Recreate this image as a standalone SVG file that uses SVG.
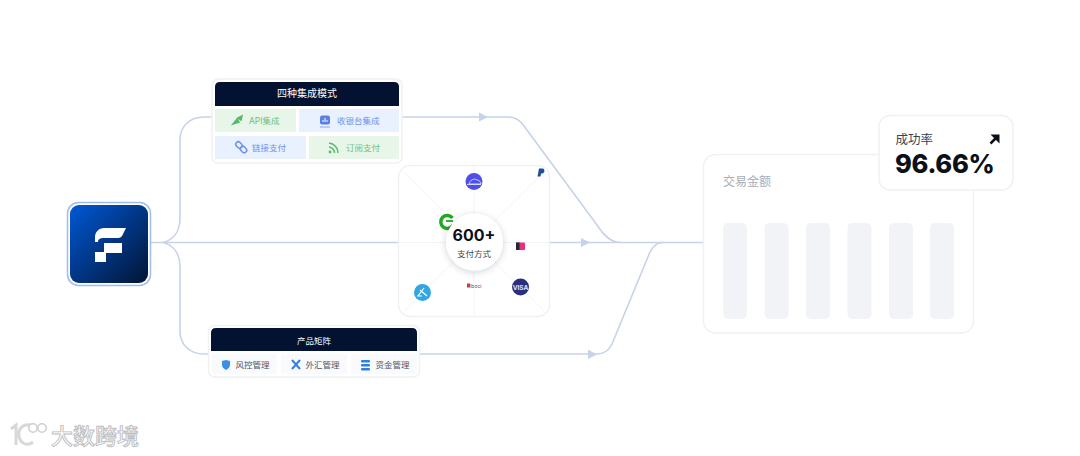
<svg xmlns="http://www.w3.org/2000/svg" width="1080" height="456" viewBox="0 0 1080 456">
<style>
text{font-family:"Inter","Noto Sans CJK SC","Liberation Sans",sans-serif}
.cn{font-family:"Noto Sans CJK SC","Noto Sans",sans-serif}
.flow{fill:none;stroke:#c6d3e8;stroke-width:1.6}
.spoke{stroke:#f1f3f7;stroke-width:1;fill:none}
.card{fill:#fff;stroke:#eff1f4;stroke-width:1.5}
.hd{fill:#fff;font-size:10px;text-anchor:middle}
.bl{fill:#e9f0fe}.gr{fill:#e8f6ea}
.tb{fill:#6f92ea;font-size:8.5px}
.tg{fill:#6fc07d;font-size:8.5px}
.td{fill:#4a5568;font-size:8.5px}
.bar{fill:#f2f3f6}
.arrow{fill:#c6d3e8}
</style>
<defs>
<linearGradient id="g" x1="0" y1="0" x2="1" y2="1"><stop offset="0" stop-color="#0058d6"/><stop offset="1" stop-color="#021433"/></linearGradient>
<filter id="s" x="-30%" y="-30%" width="160%" height="160%"><feDropShadow dx="0" dy="1.5" stdDeviation="3.5" flood-color="#0b1a33" flood-opacity=".18"/></filter>
</defs>
<rect width="1080" height="456" fill="#fff"/>

<g id="connectors">
<path class="flow" d="M151 242.500H703"/>
<path class="flow" d="M163 242.500C173 240 180 232 180 218V140C180 126 190 117 204 117H212"/>
<path class="flow" d="M163 242.500C173 245 180 253 180 267V331C180 345 190 354 204 354H208"/>
<path class="flow" d="M402 117H508C515 117 520 120 524 126L597 225C603 234 610 242.500 620 242.500"/>
<path class="flow" d="M420 354H597C604 354 609 350 612 344L650 252C653 246 657 242.500 663 242.500"/>
<path class="arrow" d="M479 112.500L488 117L479 121.500Z"/>
<path class="arrow" d="M581 238L590 242.500L581 247Z"/>
<path class="arrow" d="M588 349.500L597 354.500L588 359Z"/>
</g>

<g id="source">
<rect x="67.500" y="202.500" width="83" height="83" rx="11" fill="#fff" stroke="#9dbdf0" stroke-width="1.500"/>
<rect x="70" y="205" width="78" height="78" rx="9" fill="url(#g)"/>
<path d="M95 242V237C95 232 99 228 104 228H126L122 236C121 237 120 238 118 238H104C100 238 98 239 98 242Z" fill="#fff"/>
<rect x="104" y="243" width="18" height="10" fill="#fff"/>
<rect x="95" y="252" width="11" height="10" fill="#fff"/>
</g>

<g id="integration">
<rect class="card" x="212" y="79" width="190" height="84" rx="6"/>
<path d="M215 106V87Q215 82 220 82H394Q399 82 399 87V106Z" fill="#031231"/>
<text class="hd" x="307" y="97">四种集成模式</text>
<rect class="gr" x="215" y="109" width="81" height="23"/>
<rect class="bl" x="299" y="109" width="100" height="23"/>
<rect class="bl" x="215" y="136" width="91" height="23"/>
<rect class="gr" x="309" y="136" width="90" height="23"/>
<path d="M233 124L237 119L239 122ZM238 118L242 116L241 120Z" fill="#57b96a" stroke="#57b96a" stroke-width="1.500"/>
<text class="tg" x="249" y="124">API集成</text>
<rect x="320" y="115.500" width="10" height="9" rx="2" fill="#5a80e8"/><path d="M320 127H330" stroke="#a9bff2" stroke-width="1.500"/>
<path d="M323 122V120M325 122V118M327 122V120" stroke="#fff" stroke-width="1"/>
<g fill="none" stroke="#6f92ea" stroke-width="1.500"><rect x="235.500" y="142.500" width="7" height="5" rx="2.500" transform="rotate(45 239 145)"/><rect x="240" y="147" width="7" height="5" rx="2.500" transform="rotate(45 243.500 149.500)"/></g>
<text class="tb" x="337" y="124">收银台集成</text>
<text class="tb" x="252" y="151">链接支付</text>
<path d="M329 143A10 10 0 0 1 338 153M329 147A6 6 0 0 1 334.500 153" fill="none" stroke="#57b96a" stroke-width="1.500"/><circle cx="330" cy="152" r="1.400" fill="#57b96a"/>
<text class="tg" x="346" y="151">订阅支付</text>
</g>

<g id="methods">
<rect class="card" x="398.500" y="165.500" width="151" height="151" rx="12"/>
<path class="spoke" d="M398 242.500H550M474 166V317M404 172L544 311M544 172L404 311"/>
<circle cx="474" cy="181.500" r="8.500" fill="#4e4fe8"/>
<path d="M467 184.500H481M469 184C470 180 474 178 477 180C479 180 481 182 481 184Z" fill="none" stroke="#dfe2ff" stroke-width=".9"/>
<path d="M539 168.500H543C545 169.500 545 172.500 542.500 173.500H541L540.500 176.500H537.500Z" fill="#1b4f9c"/>
<path d="M452.500 218A6.500 6.500 0 1 0 453 225" fill="none" stroke="#1fa824" stroke-width="3.500"/>
<path d="M446 221H453" stroke="#1fa824" stroke-width="1.800"/>
<rect x="516" y="242.500" width="9" height="7.500" rx="1" fill="#e5317f"/><rect x="516" y="242.500" width="3.500" height="7.500" fill="#2b2230"/>
<circle cx="422.500" cy="292.500" r="8.500" fill="#2fa7e3"/>
<path d="M418 296L424 288M420 290L427 296M417 296H422" stroke="#fff" stroke-width="1.200" fill="none"/>
<rect x="467" y="283.500" width="3" height="4" fill="#d8344a"/>
<text x="470" y="288" font-size="5" fill="#555">Iboci</text>
<circle cx="520.500" cy="287" r="8.500" fill="#2b2f80"/>
<text x="520.500" y="289.500" font-size="6.500" font-weight="700" text-anchor="middle" fill="#e4e6f5">VISA</text>
<circle cx="474.500" cy="242" r="28.500" fill="#fff" filter="url(#s)"/>
<text x="474" y="241" font-size="16" font-weight="700" text-anchor="middle" fill="#0c1017">600+</text>
<text class="cn" x="474" y="257" font-size="8.500" text-anchor="middle" fill="#3d4450">支付方式</text>
</g>

<g id="products">
<rect class="card" x="208.500" y="325.500" width="211" height="51.500" rx="6"/>
<path d="M211 351V333Q211 328 216 328H412Q417 328 417 333V351Z" fill="#031231"/>
<text class="hd" x="314" y="344" style="font-size:8.500px">产品矩阵</text>
<rect x="212" y="354" width="65" height="20" rx="2" fill="#f9fafb"/>
<rect x="281" y="354" width="66" height="20" rx="2" fill="#f9fafb"/>
<rect x="351" y="354" width="66" height="20" rx="2" fill="#f9fafb"/>
<path d="M222 361L226 360L230 361V365C230 367 228 369 226 370C224 369 222 367 222 365Z" fill="#3d8fe6"/>
<text class="td" x="235.500" y="368">风控管理</text>
<path d="M292 360L300 369M300 360L292 369" stroke="#2f7fe0" stroke-width="2"/>
<text class="td" x="305.500" y="368">外汇管理</text>
<rect x="361" y="360" width="9" height="2.500" rx="1" fill="#2f7fe0"/><rect x="361" y="364" width="9" height="2.500" rx="1" fill="#2f7fe0"/><rect x="361" y="368" width="9" height="2.500" rx="1" fill="#2f7fe0"/>
<text class="td" x="375.500" y="368">资金管理</text>
</g>

<g id="amount">
<rect class="card" x="703.500" y="154.500" width="270" height="178.500" rx="12"/>
<text class="cn" x="723" y="186" font-size="12" fill="#a8adb6">交易金额</text>
<rect class="bar" x="723" y="223" width="24" height="96" rx="5"/>
<rect class="bar" x="764.500" y="223" width="24" height="96" rx="5"/>
<rect class="bar" x="806" y="223" width="24" height="96" rx="5"/>
<rect class="bar" x="847.500" y="223" width="24" height="96" rx="5"/>
<rect class="bar" x="889" y="223" width="24" height="96" rx="5"/>
<rect class="bar" x="930" y="223" width="24" height="96" rx="5"/>
</g>

<g id="rate">
<rect class="card" x="879" y="115.500" width="134" height="74.500" rx="11"/>
<text class="cn" x="895.500" y="144" font-size="12.500" fill="#3b4352">成功率</text>
<path d="M990.500 143.500L997 137" fill="none" stroke="#0c1017" stroke-width="2.500"/>
<path d="M990.500 134.500H999.500V143.500L996.500 140.500L993.500 137.500Z" fill="#0c1017"/>
<text x="895" y="173" font-size="25.500" font-weight="800" letter-spacing="-.3" fill="#0c1017">96.66%</text>
</g>

<g id="watermark">
<path d="M11 429L16 425V445M31 425C22 423 18 430 19 436C20 443 27 447 33 442" fill="none" stroke="#d8d8d8" stroke-width="3"/>
<circle cx="33" cy="428" r="4.200" fill="#fff" stroke="#cfcfcf" stroke-width="1.600"/>
<circle cx="42" cy="428" r="4.200" fill="#fff" stroke="#cfcfcf" stroke-width="1.600"/>
<text class="cn" x="51" y="444" font-size="22" font-weight="500" fill="#fff" stroke="#bdbdbd" stroke-width=".9">大数跨境</text>
</g>
</svg>
